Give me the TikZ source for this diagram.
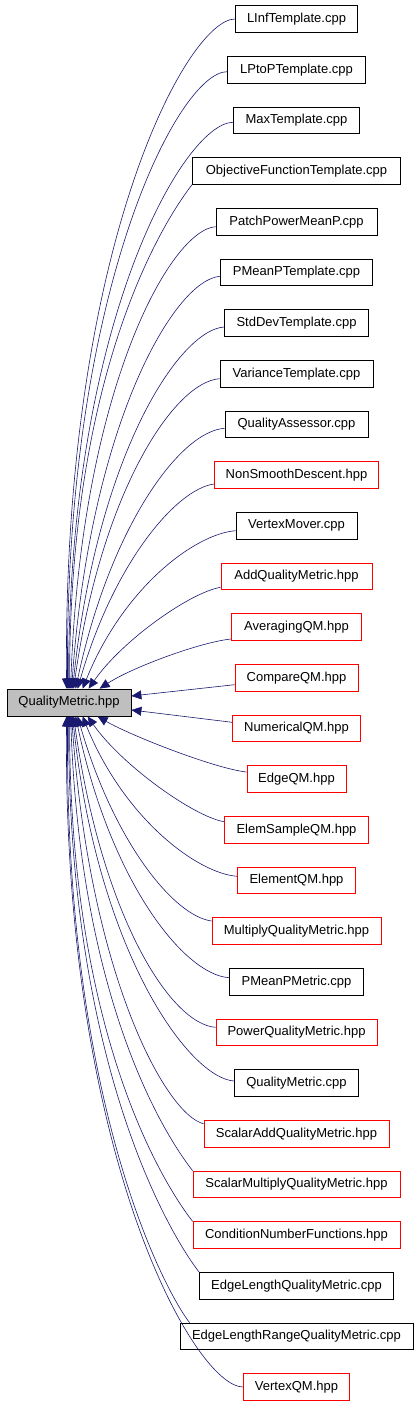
\documentclass[tikz,border=0pt]{standalone}
\usepackage{fontspec}
\setmainfont{Liberation Sans}
\usetikzlibrary{arrows.meta,calc}
\definecolor{edgeblue}{HTML}{191970}
\definecolor{qmgray}{HTML}{BFBFBF}
\definecolor{hppred}{HTML}{FF0000}
\tikzset{
  filebox/.style={rectangle, draw, line width=0.8pt, minimum height=26.5pt, inner sep=0pt,
    font=\fontsize{13pt}{15pt}\selectfont},
  cppbox/.style={filebox, draw=black},
  hppbox/.style={filebox, draw=hppred},
  rootbox/.style={filebox, draw=black, fill=qmgray, minimum height=27pt},
  edge/.style={draw=edgeblue, line width=0.6pt, -{Triangle[length=10pt,width=9pt]}, fill=none},
}
\begin{document}
\begin{tikzpicture}[x=1pt,y=-1pt]
\useasboundingbox (0,0) rectangle (419,1405);
\node[rootbox, minimum width=124pt] (qm) at (69,702.5) {QualityMetric.hpp};
\node[cppbox, minimum width=122pt] (n0) at (296.5,19) {LInfTemplate.cpp};
\node[cppbox, minimum width=138pt] (n1) at (296.5,69.7) {LPtoPTemplate.cpp};
\node[cppbox, minimum width=126pt] (n2) at (296.5,120.3) {MaxTemplate.cpp};
\node[cppbox, minimum width=208pt] (n3) at (296.5,171) {ObjectiveFunctionTemplate.cpp};
\node[cppbox, minimum width=161pt] (n4) at (296.5,221.7) {PatchPowerMeanP.cpp};
\node[cppbox, minimum width=152pt] (n5) at (296.5,272.3) {PMeanPTemplate.cpp};
\node[cppbox, minimum width=144pt] (n6) at (296.5,323) {StdDevTemplate.cpp};
\node[cppbox, minimum width=153pt] (n7) at (296.5,373.7) {VarianceTemplate.cpp};
\node[cppbox, minimum width=143pt] (n8) at (296.5,424.3) {QualityAssessor.cpp};
\node[hppbox, minimum width=164pt] (n9) at (296.5,475) {NonSmoothDescent.hpp};
\node[cppbox, minimum width=121pt] (n10) at (296.5,525.7) {VertexMover.cpp};
\node[hppbox, minimum width=151pt] (n11) at (296.5,576.3) {AddQualityMetric.hpp};
\node[hppbox, minimum width=130pt] (n12) at (296.5,627) {AveragingQM.hpp};
\node[hppbox, minimum width=123pt] (n13) at (296.5,677.7) {CompareQM.hpp};
\node[hppbox, minimum width=128pt] (n14) at (296.5,728.3) {NumericalQM.hpp};
\node[hppbox, minimum width=99pt] (n15) at (296.5,779) {EdgeQM.hpp};
\node[hppbox, minimum width=144pt] (n16) at (296.5,829.7) {ElemSampleQM.hpp};
\node[hppbox, minimum width=118pt] (n17) at (296.5,880.3) {ElementQM.hpp};
\node[hppbox, minimum width=169pt] (n18) at (296.5,931) {MultiplyQualityMetric.hpp};
\node[cppbox, minimum width=134pt] (n19) at (296.5,981.7) {PMeanPMetric.cpp};
\node[hppbox, minimum width=161pt] (n20) at (296.5,1032.3) {PowerQualityMetric.hpp};
\node[cppbox, minimum width=124pt] (n21) at (296.5,1083) {QualityMetric.cpp};
\node[hppbox, minimum width=185pt] (n22) at (296.5,1133.7) {ScalarAddQualityMetric.hpp};
\node[hppbox, minimum width=207pt] (n23) at (296.5,1184.3) {ScalarMultiplyQualityMetric.hpp};
\node[hppbox, minimum width=207pt] (n24) at (296.5,1235) {ConditionNumberFunctions.hpp};
\node[cppbox, minimum width=194pt] (n25) at (296.5,1285.7) {EdgeLengthQualityMetric.cpp};
\node[cppbox, minimum width=233pt] (n26) at (296.5,1336.3) {EdgeLengthRangeQualityMetric.cpp};
\node[hppbox, minimum width=106pt] (n27) at (296.5,1387) {VertexQM.hpp};
% upper edges
\draw[edge] (n0.west) .. controls ($(n0.west)+(-48,0)$) and ($(qm.north west)+(56,-440)$) .. ($(qm.north west)+(60,0)$);
\draw[edge] ($(n1.west)+(0,2)$) .. controls ($(n1.west)+(-48,2)$) and ($(qm.north west)+(58,-400)$) .. ($(qm.north west)+(61,0)$);
\draw[edge] ($(n2.west)+(0,2)$) .. controls ($(n2.west)+(-48,2)$) and ($(qm.north west)+(62,-370)$) .. ($(qm.north west)+(62,0)$);
\draw[edge] (n3.south west) .. controls ($(n3.south west)+(-22,28)$) and ($(qm.north west)+(63,-330)$) .. ($(qm.north west)+(63,0)$);
\draw[edge] ($(n4.west)+(0,5)$) .. controls ($(n4.west)+(-45,8)$) and ($(qm.north west)+(74.5,-300)$) .. ($(qm.north west)+(64,0)$);
\draw[edge] ($(n5.west)+(0,4)$) .. controls ($(n5.west)+(-45,7)$) and ($(qm.north west)+(83.7,-267)$) .. ($(qm.north west)+(65,0)$);
\draw[edge] ($(n6.west)+(0,4)$) .. controls ($(n6.west)+(-45,7)$) and ($(qm.north west)+(90.6,-234)$) .. ($(qm.north west)+(66,0)$);
\draw[edge] ($(n7.west)+(0,5)$) .. controls ($(n7.west)+(-45,8)$) and ($(qm.north west)+(94.8,-198)$) .. ($(qm.north west)+(67,0)$);
\draw[edge] ($(n8.west)+(0,4)$) .. controls ($(n8.west)+(-45,7)$) and ($(qm.north west)+(103.3,-161)$) .. ($(qm.north west)+(69,0)$);
\draw[edge] ($(n9.west)+(0,9)$) .. controls ($(n9.west)+(-38,14)$) and ($(qm.north west)+(106.8,-125)$) .. ($(qm.north west)+(71,0)$);
\draw[edge] ($(n10.west)+(0,5)$) .. controls ($(n10.west)+(-40,8)$) and ($(qm.north west)+(117.2,-102)$) .. ($(qm.north west)+(76,0)$);
\draw[edge] ($(n11.west)+(0,11)$) .. controls ($(n11.west)+(-30,16)$) and ($(qm.north west)+(116.4,-49.1)$) .. ($(qm.north west)+(82,0)$);
\draw[edge] ($(n12.west)+(0,12)$) .. controls ($(n12.west)+(-30,15)$) and ($(qm.north west)+(126.5,-21.8)$) .. ($(qm.north west)+(93,0)$);
% side edges
\draw[edge] ($(n13.west)+(0,7)$) -- ($(qm.east)+(0,-6.5)$);
\draw[edge] ($(n14.west)+(0,-6)$) -- ($(qm.east)+(0,7.5)$);
% lower edges
\draw[edge] ($(n15.west)+(0,-7)$) .. controls ($(n15.west)+(-30,-10)$) and ($(qm.south west)+(125.6,20)$) .. ($(qm.south west)+(91,0)$);
\draw[edge] ($(n16.west)+(0,-8)$) .. controls ($(n16.west)+(-30,-13)$) and ($(qm.south west)+(115.4,49.1)$) .. ($(qm.south west)+(81,0)$);
\draw[edge] ($(n17.west)+(0,-4)$) .. controls ($(n17.west)+(-40,-7)$) and ($(qm.south west)+(117.2,102)$) .. ($(qm.south west)+(76,0)$);
\draw[edge] ($(n18.west)+(0,-10)$) .. controls ($(n18.west)+(-38,-15)$) and ($(qm.south west)+(107,125)$) .. ($(qm.south west)+(71,0)$);
\draw[edge] ($(n19.west)+(0,-4)$) .. controls ($(n19.west)+(-45,-7)$) and ($(qm.south west)+(104,166)$) .. ($(qm.south west)+(69,0)$);
\draw[edge] ($(n20.west)+(0,-5)$) .. controls ($(n20.west)+(-45,-8)$) and ($(qm.south west)+(95,200)$) .. ($(qm.south west)+(67,0)$);
\draw[edge] ($(n21.west)+(0,-2)$) .. controls ($(n21.west)+(-45,-5)$) and ($(qm.south west)+(90.8,236)$) .. ($(qm.south west)+(66,0)$);
\draw[edge] ($(n22.west)+(0,-10)$) .. controls ($(n22.west)+(-36,-18)$) and ($(qm.south west)+(83.5,264)$) .. ($(qm.south west)+(65,0)$);
\draw[edge] (n23.north west) .. controls ($(n23.north west)+(-22,-28)$) and ($(qm.south west)+(74.3,296)$) .. ($(qm.south west)+(64,0)$);
\draw[edge] (n24.north west) .. controls ($(n24.north west)+(-22,-28)$) and ($(qm.south west)+(63,330)$) .. ($(qm.south west)+(63,0)$);
\draw[edge] (n25.north west) .. controls ($(n25.north west)+(-22,-28)$) and ($(qm.south west)+(62,362)$) .. ($(qm.south west)+(62,0)$);
\draw[edge] ($(n26.north west)+(10,0)$) .. controls ($(n26.north west)+(-12,-28)$) and ($(qm.south west)+(58,395)$) .. ($(qm.south west)+(61,0)$);
\draw[edge] (n27.west) .. controls ($(n27.west)+(-48,0)$) and ($(qm.south west)+(56,440)$) .. ($(qm.south west)+(60,0)$);
\end{tikzpicture}
\end{document}
